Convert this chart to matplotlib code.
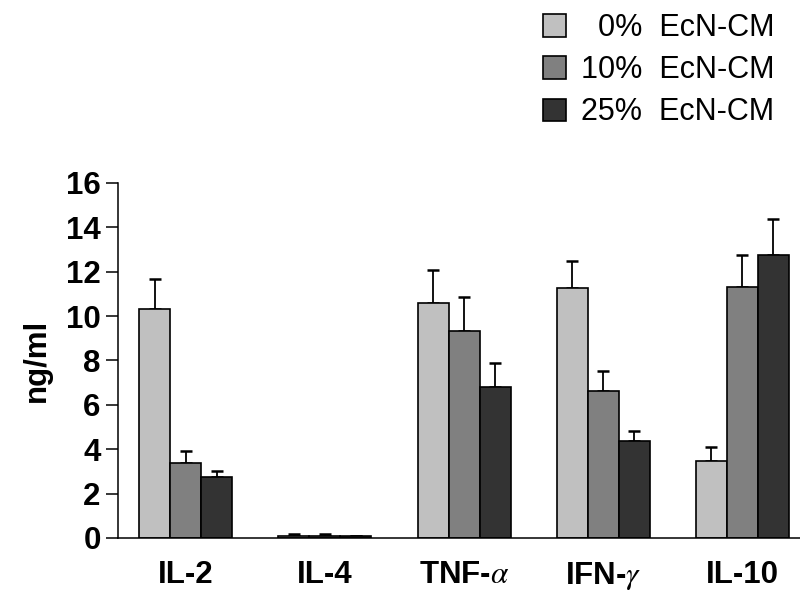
import matplotlib
matplotlib.use("Agg")
import matplotlib.pyplot as plt
import numpy as np

plt.rcParams['font.family'] = ['Liberation Sans', 'DejaVu Sans']
plt.rcParams['mathtext.fontset'] = 'stix'

cytokines = ["IL-2", "IL-4", r"TNF-$\alpha$", r"IFN-$\gamma$", "IL-10"]
groups = ["  0%  EcN-CM", "10%  EcN-CM", "25%  EcN-CM"]
colors = ["#c0c0c0", "#808080", "#333333"]

cm0 = [10.3, 0.1, 10.6, 11.26, 3.47]
cm10 = [3.38, 0.1, 9.32, 6.62, 11.31]
cm25 = [2.75, 0.08, 6.8, 4.37, 12.75]
err0 = [1.37, 0.1, 1.47, 1.22, 0.63]
err10 = [0.52, 0.1, 1.54, 0.9, 1.44]
err25 = [0.25, 0.0, 1.08, 0.45, 1.62]

fig = plt.figure(figsize=(8, 5.91), dpi=100)
ax = fig.add_axes([0.1475, 0.0897, 0.8525, 0.6007])

x = np.arange(len(cytokines))
w = 0.223
handles = []
for i, (vals, errs) in enumerate([(cm0, err0), (cm10, err10), (cm25, err25)]):
    pos = x + (i - 1) * w
    b = ax.bar(pos, vals, width=w, color=colors[i], edgecolor='black', linewidth=1.2, zorder=2)
    ax.errorbar(pos, vals, yerr=[np.zeros(len(errs)), errs], fmt='none', ecolor='black',
                elinewidth=1.3, capsize=4, capthick=1.8, zorder=1)
    handles.append(b)

ax.set_xlim(-0.489, 4.417)
ax.set_ylim(0, 16)
ax.set_yticks(range(0, 17, 2))
ax.set_xticks(x)
ax.set_xticklabels(cytokines)
ax.spines['top'].set_visible(False)
ax.spines['right'].set_visible(False)
ax.spines['left'].set_linewidth(1.1)
ax.spines['bottom'].set_linewidth(1.1)
ax.tick_params(axis='y', length=8.5, width=1.1, pad=4, labelsize=22.5)
ax.tick_params(axis='x', length=0, pad=16, labelsize=22.5)
for lab in ax.get_xticklabels() + ax.get_yticklabels():
    lab.set_fontweight('bold')
ax.set_ylabel("ng/ml", fontsize=22.5, fontweight='bold', labelpad=10)

ax.legend(handles, groups, loc='upper left', bbox_to_anchor=(543 / 800, 1 - 13 / 591),
          bbox_transform=fig.transFigure, frameon=False, fontsize=22,
          handlelength=0.75, handleheight=0.75, handletextpad=0.5,
          labelspacing=0.4, borderpad=0, borderaxespad=0)

fig.savefig("out.png", dpi=100)
